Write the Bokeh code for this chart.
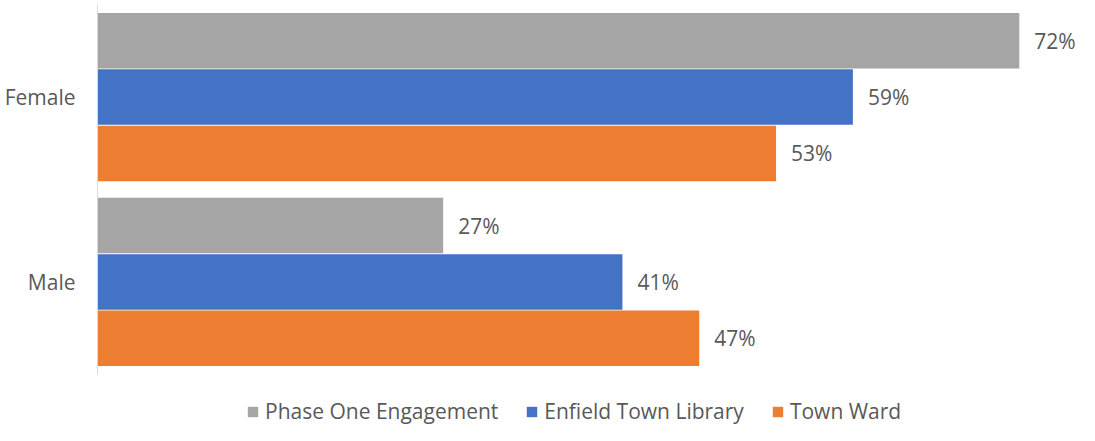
from bokeh.plotting import figure
from bokeh.layouts import column
from bokeh.models import ColumnDataSource, Range1d, FactorRange, Legend, LegendItem
from bokeh.transform import dodge
from bokeh.embed import file_html
from bokeh.resources import INLINE

categories = ["Male", "Female"]
series_names = ["Phase One Engagement", "Enfield Town Library", "Town Ward"]
phase_one = [27, 72]
enfield_library = [41, 59]
town_ward = [47, 53]
colors = ["#A5A5A5", "#4472C4", "#ED7D31"]

FONT = "Open Sans"
TXT = "#595959"
FS = "21px"

src = ColumnDataSource(dict(
    cat=categories,
    phase=phase_one,
    lib=enfield_library,
    ward=town_ward,
    phase_lbl=[f"{v}%" for v in phase_one],
    lib_lbl=[f"{v}%" for v in enfield_library],
    ward_lbl=[f"{v}%" for v in town_ward],
))

yr = FactorRange(factors=categories, range_padding=0.001)
xr = Range1d(0, 76.7)

p = figure(width=1079, height=380, y_range=yr, x_range=xr,
           output_backend="svg", toolbar_location=None, x_axis_location=None,
           min_border_left=97, min_border_right=0, min_border_top=4, min_border_bottom=6)

offsets = [0.305, 0.0, -0.305]
fields = ["phase", "lib", "ward"]
for f, off, c in zip(fields, offsets, colors):
    p.hbar(y=dodge("cat", off, range=yr), left=0, right=f, height=0.3,
           source=src, fill_color=c, line_color=None)
    p.text(x=f, y=dodge("cat", off, range=yr), text=f + "_lbl", source=src,
           x_offset=15, text_align="left", text_baseline="middle",
           text_font={"value": FONT}, text_font_size=FS, text_color=TXT)

p.xgrid.visible = False
p.ygrid.visible = False
p.outline_line_color = None
p.yaxis.axis_line_color = "#D9D9D9"
p.yaxis.major_tick_line_color = None
p.yaxis.minor_tick_line_color = None
p.yaxis.major_tick_out = 0
p.yaxis.major_label_standoff = 22
p.yaxis.major_label_text_font = FONT
p.yaxis.major_label_text_font_size = FS
p.yaxis.major_label_text_color = TXT

# legend strip below the chart
p2 = figure(width=1079, height=45, y_range=yr, x_range=xr,
            output_backend="svg", toolbar_location=None,
            x_axis_location=None, y_axis_location=None,
            min_border_left=0, min_border_right=0, min_border_top=0, min_border_bottom=0)
p2.xgrid.visible = False
p2.ygrid.visible = False
p2.outline_line_color = None
proxies = []
for f, off, c in zip(fields, offsets, colors):
    r = p2.hbar(y=dodge("cat", off, range=yr), left=0, right=f, height=0.3,
                source=src, fill_color=c, line_color=None, visible=False)
    proxies.append(r)

legend = Legend(items=[LegendItem(label=n, renderers=[r]) for n, r in zip(series_names, proxies)],
                orientation="horizontal", location=(149, 0),
                glyph_width=13, glyph_height=13, label_standoff=6, spacing=27,
                padding=0, margin=0, border_line_color=None, background_fill_alpha=0,
                label_text_font=FONT, label_text_font_size=FS, label_text_color=TXT)
p2.add_layout(legend)

layout = column(p, p2, spacing=0)
open("out.html", "w").write(file_html(layout, INLINE))
